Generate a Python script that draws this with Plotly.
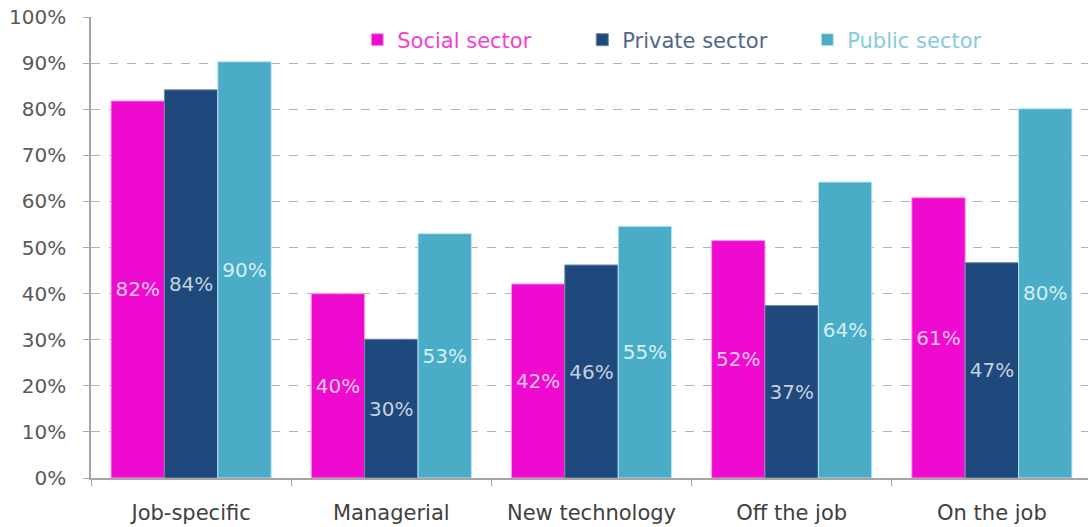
import plotly.graph_objects as go

categories = ["Job-specific", "Managerial", "New technology", "Off the job", "On the job"]
series_names = ["Social sector", "Private sector", "Public sector"]
social = [81.8, 40.0, 42.1, 51.5, 60.8]
private = [84.2, 30.1, 46.2, 37.4, 46.7]
public = [90.3, 53.0, 54.6, 64.2, 80.1]
tick_vals = [0, 10, 20, 30, 40, 50, 60, 70, 80, 90, 100]
tick_text = [f"{v}%" for v in tick_vals]

colors = ["#ef0ad0", "#1f497d", "#4aacc6"]
label_colors = ["#fcc8f1", "#c5d0de", "#d5eff5"]
legend_colors = ["#f23fd6", "#50678c", "#86cadb"]
border_colors = ["#fb9ee9", "#6d86a6", "#bfe6f0"]

FONT = "DejaVu Sans"

fig = go.Figure()
for name, vals, c, lc, lgc, bc in zip(series_names, [social, private, public], colors, label_colors, legend_colors, border_colors):
    fig.add_trace(go.Bar(
        x=categories, y=vals,
        name=f"<span style='color:{lgc}'>{name}</span>",
        marker=dict(color=c, line=dict(color=bc, width=1)),
        text=[f"{round(v):.0f}%" for v in vals],
        textposition="inside", insidetextanchor="middle",
        textfont=dict(color=lc, size=20, family=FONT),
        textangle=0,
    ))

fig.update_layout(
    width=1092, height=527,
    barmode="group", bargap=0.2, bargroupgap=0,
    plot_bgcolor="white", paper_bgcolor="white",
    margin=dict(l=91, r=0, t=17, b=49, autoexpand=False),
    font=dict(family=FONT, size=20, color="#595959"),
    uniformtext=dict(mode="show", minsize=10),
    legend=dict(
        orientation="h", x=0.266, y=0.95, xanchor="left", yanchor="middle",
        bgcolor="white", font=dict(size=21, family=FONT),
        entrywidth=180, entrywidthmode="pixels", traceorder="normal",
    ),
    showlegend=True,
)
fig.update_yaxes(
    range=[0, 100], tickvals=tick_vals, ticktext=tick_text,
    showgrid=True, gridcolor="#b3b3b3", griddash="dash", gridwidth=1,
    showline=True, linecolor="#a6a6a6", linewidth=1.5,
    ticks="outside", ticklen=6, tickcolor="#a6a6a6",
    ticklabelstandoff=13, zeroline=False, ticklabeloverflow="allow",
    tickfont=dict(size=20, color="#595959"),
)
fig.update_xaxes(
    showline=True, linecolor="#a6a6a6", linewidth=1.5,
    ticks="outside", ticklen=6, tickcolor="#a6a6a6", tickson="boundaries",
    ticklabelstandoff=15,
    tickfont=dict(size=21, color="#404040"),
)

fig.write_html(
    "out.html",
    config={"displayModeBar": False},
    post_script="document.body.style.margin='0';document.body.style.padding='0';document.body.style.overflow='hidden';",
)
